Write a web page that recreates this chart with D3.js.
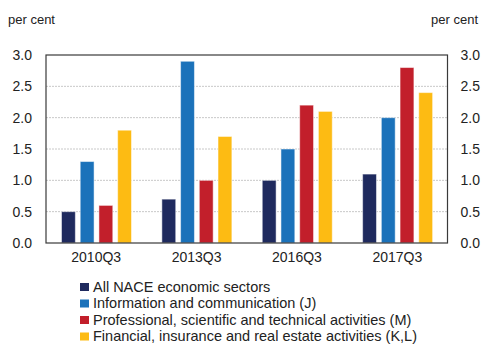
<!DOCTYPE html>
<html><head><meta charset="utf-8">
<script src="https://cdn.jsdelivr.net/npm/d3@7"></script>
<style>body{margin:0;background:#fff}svg{display:block;font-family:"Liberation Sans",Arial,sans-serif}</style>
</head><body><svg id="c" width="482" height="351"></svg>
<script>
const categories = ["2010Q3","2013Q3","2016Q3","2017Q3"];
const seriesNames = ["All NACE economic sectors","Information and communication (J)","Professional, scientific and technical activities (M)","Financial, insurance and real estate activities (K,L)"];
const allNace = [0.5, 0.7, 1.0, 1.1];
const infoComm = [1.3, 2.9, 1.5, 2.0];
const professional = [0.6, 1.0, 2.2, 2.8];
const financial = [1.8, 1.7, 2.1, 2.4];
const yTicks = [0, 0.5, 1.0, 1.5, 2.0, 2.5, 3.0];
const colors = ["#1f2a5e","#1b72ba","#c21f2b","#fdbb13"];
const series = [allNace, infoComm, professional, financial];

const svg = d3.select("#c");
const L = 46, R = 447.5, T = 55, B = 243;
const x = d3.scaleBand().domain(categories).range([L, R]).padding(0);
const inner = d3.scaleBand().domain(d3.range(4)).range([15.5, 85.5]).paddingInner(0.26).paddingOuter(0);
const y = d3.scaleLinear().domain([0, 3]).range([B, T]);

svg.append("g").selectAll("line").data(yTicks.filter(d => d > 0 && d < 3)).join("line")
  .attr("x1", L).attr("x2", R).attr("y1", d => y(d)).attr("y2", d => y(d))
  .attr("stroke", "#c8c8c8").attr("stroke-width", 1).attr("stroke-dasharray", "2,1");

const g = svg.append("g");
categories.forEach((c, i) => {
  series.forEach((s, k) => {
    g.append("rect")
      .attr("x", x(c) + inner(k)).attr("width", inner.bandwidth())
      .attr("y", y(s[i])).attr("height", B - y(s[i]))
      .attr("fill", colors[k]).attr("stroke", "#fff").attr("stroke-opacity", 0.5).attr("stroke-width", 1);
  });
});

svg.append("rect").attr("x", L).attr("y", T).attr("width", R - L).attr("height", B - T)
  .attr("fill", "none").attr("stroke", "#3a3a3a").attr("stroke-width", 1.2);

const fmt = d3.format(".1f");
const leftAxis = d3.axisLeft(y).tickValues(yTicks).tickFormat(fmt).tickSize(0).tickPadding(14);
const rightAxis = d3.axisRight(y).tickValues(yTicks).tickFormat(fmt).tickSize(0).tickPadding(13);
const bottomAxis = d3.axisBottom(x).tickSize(0).tickPadding(9);
[[leftAxis, `translate(${L},0)`], [rightAxis, `translate(${R},0)`], [bottomAxis, `translate(0,${B})`]].forEach(([a, t]) => {
  const ag = svg.append("g").attr("transform", t).call(a);
  ag.select(".domain").remove();
  ag.selectAll("text").attr("font-size", 14).attr("fill", "#222").attr("font-family", '"Liberation Sans",Arial,sans-serif');
});

svg.append("text").attr("x", 8).attr("y", 24).attr("font-size", 13).attr("fill", "#222").text("per cent");
svg.append("text").attr("x", 478).attr("y", 24).attr("text-anchor", "end").attr("font-size", 13).attr("fill", "#222").text("per cent");

const lg = svg.append("g").attr("transform", "translate(80,287)");
seriesNames.forEach((n, k) => {
  lg.append("rect").attr("x", 0).attr("y", k * 16.5 - 4).attr("width", 9).attr("height", 8).attr("fill", colors[k]);
  lg.append("text").attr("x", 13).attr("y", k * 16.5 + 4.5).attr("font-size", 14.5).attr("fill", "#222").text(n);
});
</script></body></html>
